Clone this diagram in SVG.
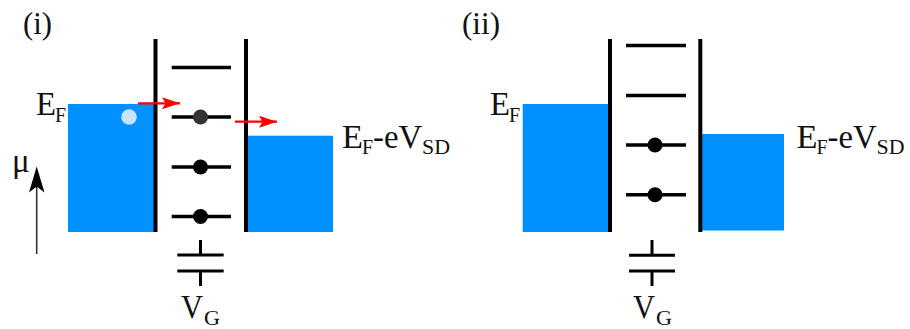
<svg xmlns="http://www.w3.org/2000/svg" width="910" height="329" viewBox="0 0 910 329">
<style>
text{font-family:"Liberation Serif","DejaVu Serif",serif;fill:#111}
.t{font-size:33px}
.s{font-size:20px}
.l{font-size:32px}
.b{fill:#0090ff}
.w{stroke:#000;stroke-width:4;fill:none}
.h{stroke:#000;stroke-width:3.4;fill:none}
.g{stroke:#000;stroke-width:3;fill:none}
.d{fill:#000}
.r{stroke:#f00;stroke-width:2.2;fill:none}
</style>
<defs>
<marker id="ra" markerUnits="userSpaceOnUse" markerWidth="20" markerHeight="14" refX="18" refY="6" orient="auto"><path d="M0 0L18 6L0 12L3.500 6Z" fill="#f00"/></marker>
</defs>
<g id="panel-i">
<g id="label-i"><text class="l" x="23" y="34" textLength="29" lengthAdjust="spacingAndGlyphs">(i)</text></g>
<g id="lead-left-i"><rect class="b" x="68" y="104" width="87" height="128"/><circle cx="129" cy="117" r="7.800" fill="#c6e4ff"/><text class="t" x="36" y="115" textLength="20" lengthAdjust="spacingAndGlyphs">E</text><text class="s" x="55" y="122">F</text></g>
<g id="lead-right-i"><rect class="b" x="246" y="135.700" width="87" height="96.300"/><text class="t" x="342" y="148" textLength="21" lengthAdjust="spacingAndGlyphs">E</text><text class="s" x="362" y="154">F</text><text class="t" x="373" y="148" textLength="49" lengthAdjust="spacingAndGlyphs">-eV</text><text class="s" x="422" y="154" textLength="28" lengthAdjust="spacingAndGlyphs">SD</text></g>
<g id="barriers-i"><path class="w" d="M155.500 39V232M246 39V232"/></g>
<g id="levels-i"><path class="h" d="M171.700 67.500H231M171.700 117H231M171.700 167H231M171.700 216.500H231"/><circle cx="200.500" cy="117" r="7.500" fill="#333"/><circle class="d" cx="200.500" cy="167" r="7.500"/><circle class="d" cx="200.500" cy="216.500" r="7.500"/></g>
<g id="gate-i"><path class="g" d="M200.500 240V255M177.300 255H223.700M177.300 271H223.700M200.500 271V286"/><text class="t" x="181" y="318" textLength="22" lengthAdjust="spacingAndGlyphs">V</text><text class="s" x="204" y="325" textLength="16" lengthAdjust="spacingAndGlyphs">G</text></g>
<g id="mu"><text class="t" x="12" y="172">μ</text><path d="M36.700 254V186" stroke="#333" stroke-width="1.600" fill="none"/><path d="M36.700 166.500L44.500 192.500L36.700 186.500L29 192.500Z" fill="#000"/></g>
</g>
<g id="connectors"><path class="r" d="M138 103.300H180" marker-end="url(#ra)"/><path class="r" d="M235 121.700H277" marker-end="url(#ra)"/></g>
<g id="panel-ii">
<g id="label-ii"><text class="l" x="462" y="34" textLength="38" lengthAdjust="spacingAndGlyphs">(ii)</text></g>
<g id="lead-left-ii"><rect class="b" x="522.700" y="104" width="87" height="128"/><text class="t" x="490" y="115" textLength="20" lengthAdjust="spacingAndGlyphs">E</text><text class="s" x="509" y="122">F</text></g>
<g id="lead-right-ii"><rect class="b" x="700" y="134" width="84" height="96.500"/><text class="t" x="796.500" y="148" textLength="21" lengthAdjust="spacingAndGlyphs">E</text><text class="s" x="816.500" y="154">F</text><text class="t" x="827.500" y="148" textLength="49" lengthAdjust="spacingAndGlyphs">-eV</text><text class="s" x="876.500" y="154" textLength="28" lengthAdjust="spacingAndGlyphs">SD</text></g>
<g id="barriers-ii"><path class="w" d="M610 39V232M700.300 39V232"/></g>
<g id="levels-ii"><path class="h" d="M626 45.500H686M626 95.500H686M626 145H686M626 194.700H686"/><circle class="d" cx="655" cy="145" r="7.500"/><circle class="d" cx="655" cy="194.700" r="7.500"/></g>
<g id="gate-ii"><path class="g" d="M652 240V255.300M629 255.300H675M629 271H675M652 271V286"/><text class="t" x="633" y="318" textLength="22" lengthAdjust="spacingAndGlyphs">V</text><text class="s" x="656" y="324.500" textLength="16" lengthAdjust="spacingAndGlyphs">G</text></g>
</g>
</svg>
